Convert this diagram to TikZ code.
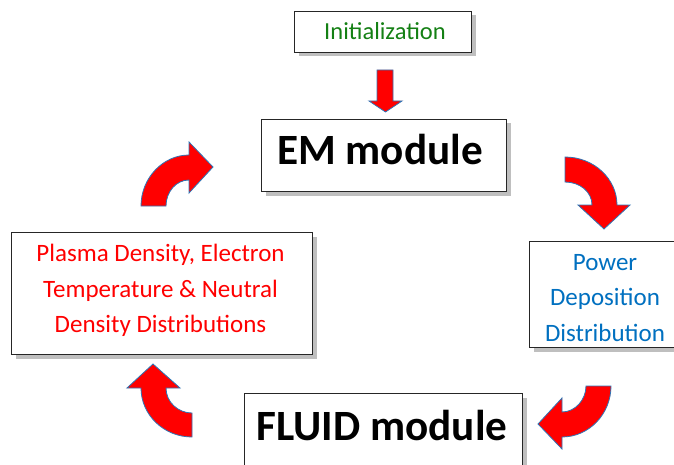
\documentclass[tikz,border=0pt]{standalone}
\usepackage{fontspec}
\setmainfont{Carlito}
\usetikzlibrary{shadows}
\definecolor{initgreen}{RGB}{20,128,20}
\definecolor{powblue}{RGB}{0,112,192}
\definecolor{arrowred}{RGB}{255,0,0}
\definecolor{edgeblue}{RGB}{46,117,182}
\begin{document}
\begin{tikzpicture}[x=1pt,y=-1pt,
  box/.style={draw=black!85, line width=0.9pt, fill=white, inner sep=0pt,
    drop shadow={shadow xshift=4.5pt, shadow yshift=-4.5pt, fill=black!25, opacity=1}},
  txt/.style={inner sep=0pt, align=center},
  smalltext/.style={txt, font=\fontsize{25}{35.5}\selectfont},
  bigtext/.style={txt, font=\bfseries\fontsize{43.2}{50}\selectfont},
  blockarrow/.style={fill=arrowred, draw=edgeblue, line width=0.8pt, line join=miter}]
\useasboundingbox (0,0) rectangle (674,465);
\clip (0,0) rectangle (674,465);
\fill[white] (0,0) rectangle (674,465);
% boxes
\node[box, minimum width=177pt, minimum height=41pt] (init) at (382.5,31.5) {};
\node[box, minimum width=245pt, minimum height=72pt] (em) at (383.5,155) {};
\node[box, minimum width=152pt, minimum height=106pt] (power) at (605,294) {};
\node[box, minimum width=301pt, minimum height=122pt] (plasma) at (161.5,293) {};
\node[box, minimum width=278pt, minimum height=94pt] (fluid) at (383,440) {};
% texts
\node[txt, font=\fontsize{24.5}{30}\selectfont, text=initgreen] (inittext) at (385,31) {Initialization};
\node[bigtext] (emtext) at (380,150) {EM module};
\node[smalltext, text=powblue] (powertext) at (605,298) {Power\\Deposition\\Distribution};
\node[smalltext, text=red] (plasmatext) at (160.5,290.5) {Plasma Density, Electron\\Temperature \& Neutral\\Density Distributions};
\node[bigtext] (fluidtext) at (382,425) {FLUID module};
% init arrow
\draw[blockarrow] (377,70) -- (393,70) -- (393,101) -- (402,101) -- (385.5,112) -- (369,101) -- (377,101) -- cycle;
% top-left curved arrow
\draw[blockarrow] (141,206) .. controls (141,178) and (163,155) .. (189,155) -- (189,142) -- (213,167) -- (189,193) -- (189,180)
  .. controls (176,180) and (166,192) .. (166,206) -- cycle;
% top-right curved arrow
\draw[blockarrow] (565,157) .. controls (594,157) and (617,179) .. (617,205) -- (630,205) -- (604,229) -- (578,205) -- (592,205)
  .. controls (592,192) and (580,182) .. (565,182) -- cycle;
% bottom-right curved arrow
\draw[blockarrow] (611,386) .. controls (611,414) and (589,437) .. (562,437) -- (562,449) -- (538,424) -- (562,398) -- (562,412)
  .. controls (575,412) and (586,400) .. (586,386) -- cycle;
% bottom-left curved arrow
\draw[blockarrow] (192,437) .. controls (164,437) and (141,415) .. (141,388) -- (127,388) -- (153,364) -- (180,388) -- (166,388)
  .. controls (166,402) and (178,413) .. (192,413) -- cycle;
\end{tikzpicture}
\end{document}
